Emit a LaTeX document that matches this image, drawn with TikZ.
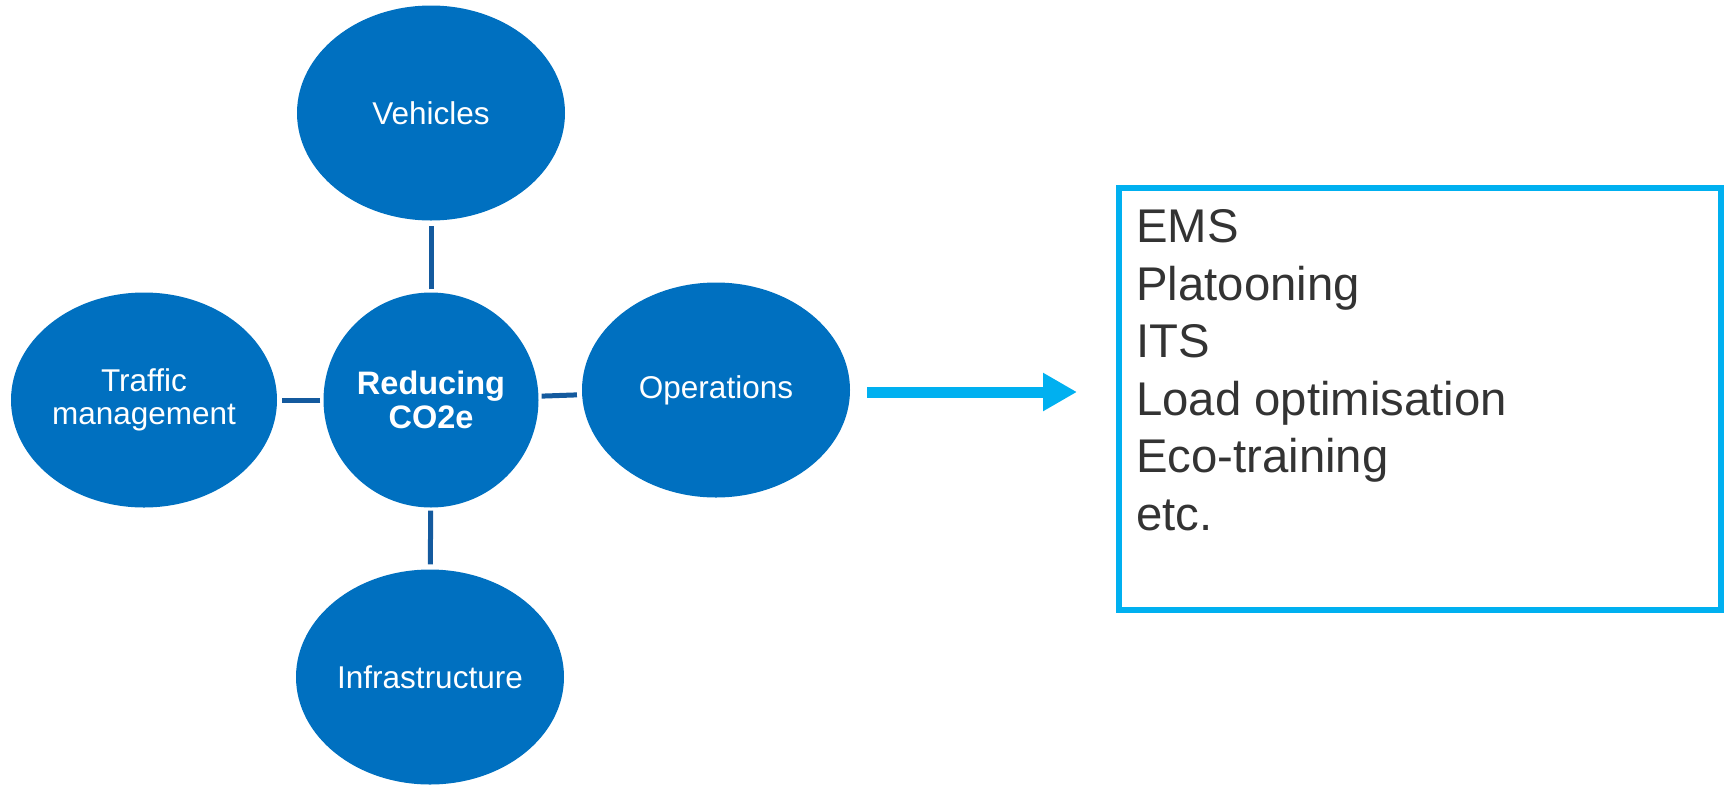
\documentclass[tikz,border=0pt]{standalone}
\usepackage{fontspec}
\setmainfont{Liberation Sans}
\usetikzlibrary{shapes.geometric,arrows.meta}
\definecolor{bubble}{HTML}{0070C0}
\definecolor{spoke}{HTML}{145A9E}
\definecolor{accent}{HTML}{00B0F0}
\definecolor{itemtext}{HTML}{333333}
\begin{document}
\begin{tikzpicture}[x=1pt,y=-1pt,
  bubblestyle/.style={ellipse,fill=bubble,draw=none,inner sep=0pt,
    minimum width=268pt,minimum height=215pt,text=white,align=center,
    font=\fontsize{31.5}{32.5}\selectfont},
  hubstyle/.style={circle,fill=bubble,draw=none,inner sep=0pt,
    minimum size=215pt,text=white,align=center,
    font=\fontsize{32.5}{33.4}\selectfont\bfseries},
  spokestyle/.style={draw=spoke,line width=5pt,shorten <=3pt,shorten >=5pt},
  itemstyle/.style={anchor=base west,inner sep=0pt,text=itemtext,
    font=\fontsize{47.3}{57.5}\selectfont}]
  \useasboundingbox (0,0) rectangle (1727,785);

  % hub and the four surrounding areas
  \node[hubstyle] (red) at (431,400) {Reducing\\CO2e};
  \node[bubblestyle] (veh) at (431,113) {Vehicles};
  \node[bubblestyle,minimum width=266pt] (trf) at (144,400) {Traffic\\management};
  \node[bubblestyle] (ops) at (716,390) {Operations};
  \node[bubblestyle] (inf) at (430,677) {Infrastructure};

  % spokes with small gaps at both ends
  \draw[spokestyle] (red) -- (veh);
  \draw[spokestyle] (red) -- (inf);
  \draw[spokestyle] (red) -- (trf);
  \draw[spokestyle] (red) -- (ops);

  % box with the list of operational measures
  \node[draw=accent,line width=6pt,rectangle,inner sep=0pt,
        minimum width=602pt,minimum height=422pt] (box) at (1420,399) {};
  \foreach \txt [count=\i from 0] in {EMS,Platooning,ITS,Load optimisation,Eco-training,etc.}
    \node[itemstyle] (item\i) at (1136,{242.7+57.5*\i}) {\txt};

  % arrow from Operations to the box
  \coordinate (arrowstart) at ([xshift=17pt,yshift=-2pt]ops.east);
  \coordinate (arrowend) at (box.west |- arrowstart);
  \draw[accent,line width=11pt,-{Triangle[length=34pt,width=36pt]},shorten >=39pt]
    (arrowstart) -- (arrowend);
\end{tikzpicture}
\end{document}
